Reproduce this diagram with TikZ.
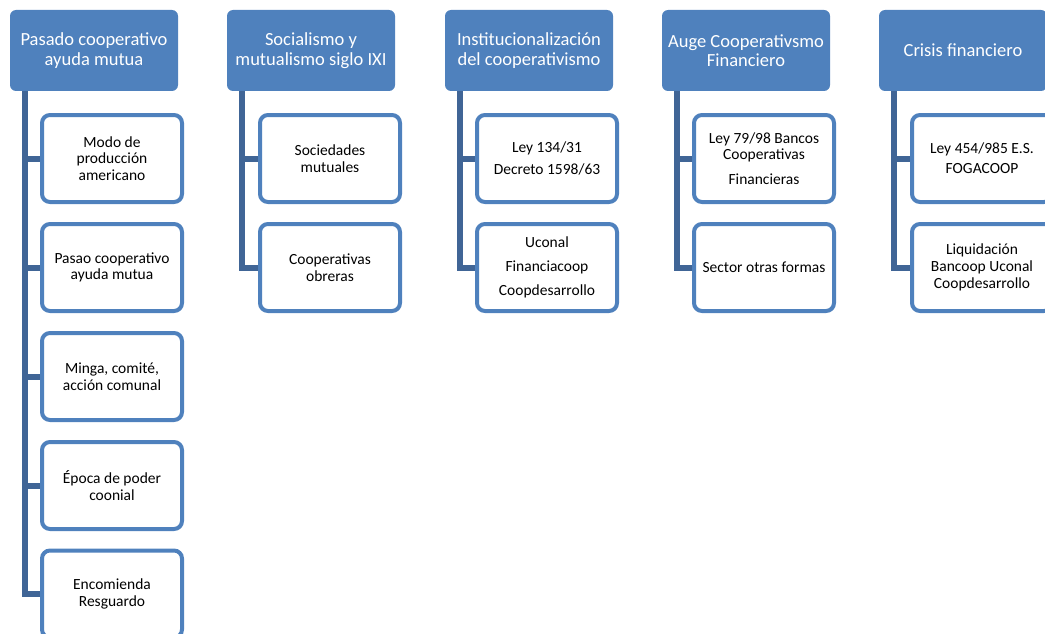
\documentclass[tikz,border=0pt]{standalone}
\usepackage{fontspec}
\setmainfont{Carlito}
\usepackage{tikz}
\usepackage{xcolor}
\usetikzlibrary{backgrounds}
\definecolor{hdrblue}{RGB}{79,129,189}
\definecolor{trunkblue}{RGB}{64,101,150}

\begin{document}
\begin{tikzpicture}[x=1pt,y=-1pt,
  hdr/.style={fill=hdrblue, rounded corners=6pt, minimum width=168pt, minimum height=81pt, inner sep=0pt, align=center, text=white, font=\fontsize{18.5}{19.5}\selectfont},
  item/.style={draw=hdrblue, line width=4pt, fill=white, rounded corners=8pt, minimum width=140pt, minimum height=87pt, inner sep=0pt, align=center, font=\fontsize{15.5}{16.7}\selectfont},
  trunk/.style={trunkblue, line width=6pt}]
\useasboundingbox (0,0) rectangle (1045,634);
\clip (0,0) rectangle (1045,634);
% headers
\node[hdr] (h1) at (94,50.5) {Pasado cooperativo\\ayuda mutua};
\node[hdr] (h2) at (311,50.5) {Socialismo y\\mutualismo siglo IXI};
\node[hdr] (h3) at (529,50.5) {Institucionalización\\del cooperativismo};
\node[hdr] (h4) at (746,50.5) {Auge Cooperativsmo\\Financiero};
\node[hdr] (h5) at (963,50.5) {Crisis financiero};
% first column
\node[item] (c11) at (112,158.5) {Modo de\\producción\\americano};
\node[item] (c12) at (112,267.5) {Pasao cooperativo\\ayuda mutua};
\node[item] (c13) at (112,376.5) {Minga, comité,\\acción comunal};
\node[item] (c14) at (112,485.5) {Época de poder\\coonial};
\node[item] (c15) at (112,594) {Encomienda\\Resguardo};
% second column
\node[item] (c21) at (330,158.5) {Sociedades\\mutuales};
\node[item] (c22) at (330,267.5) {Cooperativas\\obreras};
% third column
\node[item] (c31) at (547,158.5) {Ley 134/31\\[5pt]Decreto 1598/63};
\node[item] (c32) at (547,267.5) {Uconal\\[7pt]Financiacoop\\[7pt]Coopdesarrollo};
% fourth column
\node[item] (c41) at (764,158.5) {Ley 79/98 Bancos\\Cooperativas\\[8pt]Financieras};
\node[item] (c42) at (764,267.5) {Sector otras formas};
% fifth column
\node[item] (c51) at (982,158.5) {Ley 454/985 E.S.\\[3pt]FOGACOOP};
\node[item] (c52) at (982,267.5) {Liquidación\\Bancoop Uconal\\Coopdesarrollo};
% connectors
\begin{scope}[on background layer]
\draw[trunk] ([xshift=15pt]h1.south west) |- (c15.west);
\draw[trunk] ([xshift=15pt]h1.south west) |- (c11.west);
\draw[trunk] ([xshift=15pt]h1.south west) |- (c12.west);
\draw[trunk] ([xshift=15pt]h1.south west) |- (c13.west);
\draw[trunk] ([xshift=15pt]h1.south west) |- (c14.west);
\draw[trunk] ([xshift=15pt]h2.south west) |- (c22.west);
\draw[trunk] ([xshift=15pt]h2.south west) |- (c21.west);
\draw[trunk] ([xshift=15pt]h3.south west) |- (c32.west);
\draw[trunk] ([xshift=15pt]h3.south west) |- (c31.west);
\draw[trunk] ([xshift=15pt]h4.south west) |- (c42.west);
\draw[trunk] ([xshift=15pt]h4.south west) |- (c41.west);
\draw[trunk] ([xshift=15pt]h5.south west) |- (c52.west);
\draw[trunk] ([xshift=15pt]h5.south west) |- (c51.west);
\end{scope}
\end{tikzpicture}
\end{document}
